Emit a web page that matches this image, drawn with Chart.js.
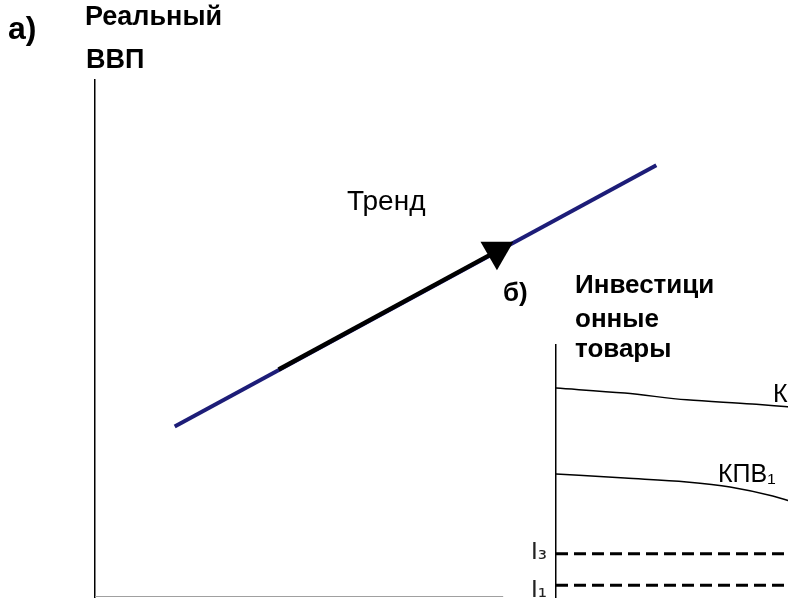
<!DOCTYPE html>
<html>
<head>
<meta charset="utf-8">
<script src="https://cdn.jsdelivr.net/npm/chart.js@4"></script>
<style>
  html, body { margin: 0; padding: 0; overflow: hidden; background: #fff; }
  body { width: 788px; height: 598px; position: relative; }
  #chartA { position: absolute; left: 0; top: 0; }
  #chartB { position: absolute; left: 480px; top: 260px; }
</style>
</head>
<body>
<canvas id="chartA" width="788" height="598"></canvas>
<canvas id="chartB" width="420" height="400"></canvas>
<script>
// а) тренд реального ВВП
const trendX = [11.5, 81];
const trendY = [33, 83.5];
const arrowX = [26.5, 58];    // черный участок со стрелкой
const arrowY = [44, 66.9];
const baseX = [0, 58.9];
const baseY = [0, 0];

// б) кривые производственных возможностей
const kpvX = [0, 20, 38, 57, 71, 91];
const kpvY = [85.4, 83.7, 81.4, 80, 78.6, 74.6];
const kpv1X = [0, 20, 38, 50.6, 63, 71.3, 84.6];
const kpv1Y = [56.3, 54.9, 53.6, 51.9, 48.8, 45.8, 40];
const levelX = [0, 100];
const i3 = 29.2;
const i1 = 18.6;

function pts(xs, ys) {
  return xs.map((x, i) => ({ x: x, y: ys[i] }));
}

// подписи рисуем сами
function textPlugin(items) {
  return {
    id: 'texts',
    afterDraw(chart) {
      const ctx = chart.ctx;
      ctx.save();
      ctx.textBaseline = 'alphabetic';
      items.forEach(t => {
        ctx.font = t.font;
        ctx.fillStyle = t.color || '#000';
        ctx.fillText(t.text, t.x, t.y);
      });
      ctx.restore();
    }
  };
}

const hiddenX = { type: 'linear', min: 0, max: 100, display: false };

new Chart(document.getElementById('chartA'), {
  type: 'scatter',
  data: {
    datasets: [{
      data: pts(arrowX, arrowY),
      showLine: true,
      borderColor: '#000',
      backgroundColor: '#000',
      borderWidth: 4.5,
      pointRadius: [0, 19],
      pointStyle: 'triangle',
      rotation: 180,
      pointBorderWidth: 0
    }, {
      data: pts(trendX, trendY),
      showLine: true,
      borderColor: '#1d1d78',
      borderWidth: 4,
      pointRadius: 0
    }, {
      data: pts(baseX, baseY),
      showLine: true,
      borderColor: '#a0a0a0',
      borderWidth: 2,
      pointRadius: 0
    }]
  },
  options: {
    responsive: false,
    animation: false,
    layout: { autoPadding: false, padding: { left: 95, top: 80, right: 0, bottom: 1 } },
    plugins: { legend: { display: false }, tooltip: { enabled: false } },
    scales: {
      x: hiddenX,
      y: {
        type: 'linear', min: 0, max: 100,
        ticks: { display: false },
        grid: { display: false, drawTicks: false },
        border: { display: true, color: '#000', width: 1.5 }
      }
    }
  },
  plugins: [textPlugin([
    { text: 'а)', x: 8, y: 39, font: 'bold 32px "Liberation Sans"' },
    { text: 'Реальный', x: 85, y: 25, font: 'bold 27px "Liberation Sans"' },
    { text: 'ВВП', x: 86, y: 68, font: 'bold 27px "Liberation Sans"' },
    { text: 'Тренд', x: 347, y: 210, font: '28px "Liberation Sans"' }
  ])]
});

new Chart(document.getElementById('chartB'), {
  type: 'scatter',
  data: {
    datasets: [{
      data: pts(kpvX, kpvY),
      showLine: true,
      borderColor: '#000',
      borderWidth: 1.5,
      pointRadius: 0,
      cubicInterpolationMode: 'monotone'
    }, {
      data: pts(kpv1X, kpv1Y),
      showLine: true,
      borderColor: '#000',
      borderWidth: 1.5,
      pointRadius: 0,
      cubicInterpolationMode: 'monotone'
    }, {
      data: pts(levelX, [i3, i3]),
      showLine: true,
      borderColor: '#000',
      borderWidth: 3,
      borderDash: [12, 6],
      pointRadius: 0
    }, {
      data: pts(levelX, [i1, i1]),
      showLine: true,
      borderColor: '#000',
      borderWidth: 3,
      borderDash: [12, 6],
      pointRadius: 0
    }]
  },
  options: {
    responsive: false,
    animation: false,
    layout: { autoPadding: false, padding: { left: 76, top: 85, right: 0, bottom: 20 } },
    plugins: { legend: { display: false }, tooltip: { enabled: false } },
    scales: {
      x: hiddenX,
      y: {
        type: 'linear', min: 0, max: 100,
        ticks: { display: false },
        grid: { display: false, drawTicks: false },
        border: { display: true, color: '#000', width: 1.5 }
      }
    }
  },
  plugins: [textPlugin([
    { text: 'б)', x: 23, y: 41, font: 'bold 26px "Liberation Sans"' },
    { text: 'Инвестици', x: 95, y: 33, font: 'bold 26px "Liberation Sans"' },
    { text: 'онные', x: 95, y: 67, font: 'bold 26px "Liberation Sans"' },
    { text: 'товары', x: 95, y: 97, font: 'bold 26px "Liberation Sans"' },
    { text: 'КПВ', x: 293, y: 142, font: '25px "Liberation Sans"' },
    { text: 'КПВ₁', x: 238, y: 222, font: '25px "Liberation Sans"' },
    { text: 'I₃', x: 51, y: 299, font: '23px "DejaVu Sans"', color: '#222' },
    { text: 'I₁', x: 51, y: 337, font: '23px "DejaVu Sans"', color: '#222' }
  ])]
});
</script>
</body>
</html>
